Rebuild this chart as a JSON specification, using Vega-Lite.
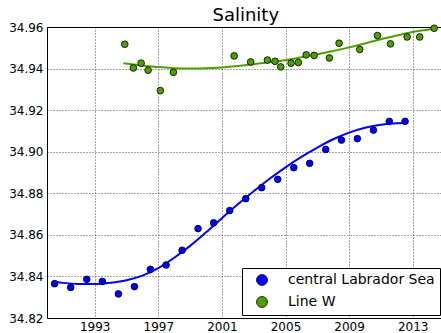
{
  "$schema": "https://vega.github.io/schema/vega-lite/v6.json",
  "autosize": "none",
  "width": 397.5,
  "height": 291,
  "padding": {"left": 47, "top": 27, "right": 0, "bottom": 15},
  "title": {"text": "Salinity", "fontSize": 18, "font": "DejaVu Sans", "fontWeight": "normal", "color": "black", "offset": -4, "anchor": "middle"},
  "config": {
    "font": "DejaVu Sans",
    "view": {"stroke": "black", "strokeWidth": 1},
    "axis": {
      "domain": false,
      "grid": true,
      "gridColor": "black",
      "gridDash": [1, 2],
      "gridOpacity": 0.7,
      "gridWidth": 1,
      "ticks": false,
      "labelFont": "DejaVu Sans",
      "labelFontSize": 12,
      "labelColor": "black",
      "title": null
    }
  },
  "datasets": {
    "pts": [
      {"year": 1990.48, "value": 34.8365, "series": "central Labrador Sea"},
      {"year": 1991.49, "value": 34.8347, "series": "central Labrador Sea"},
      {"year": 1992.5, "value": 34.8386, "series": "central Labrador Sea"},
      {"year": 1993.48, "value": 34.8376, "series": "central Labrador Sea"},
      {"year": 1994.49, "value": 34.8316, "series": "central Labrador Sea"},
      {"year": 1995.5, "value": 34.8351, "series": "central Labrador Sea"},
      {"year": 1996.5, "value": 34.8434, "series": "central Labrador Sea"},
      {"year": 1997.49, "value": 34.8455, "series": "central Labrador Sea"},
      {"year": 1998.5, "value": 34.8526, "series": "central Labrador Sea"},
      {"year": 1999.5, "value": 34.863, "series": "central Labrador Sea"},
      {"year": 2000.48, "value": 34.8658, "series": "central Labrador Sea"},
      {"year": 2001.49, "value": 34.8717, "series": "central Labrador Sea"},
      {"year": 2002.5, "value": 34.8774, "series": "central Labrador Sea"},
      {"year": 2003.5, "value": 34.8827, "series": "central Labrador Sea"},
      {"year": 2004.51, "value": 34.8867, "series": "central Labrador Sea"},
      {"year": 2005.52, "value": 34.8923, "series": "central Labrador Sea"},
      {"year": 2006.52, "value": 34.8944, "series": "central Labrador Sea"},
      {"year": 2007.53, "value": 34.9011, "series": "central Labrador Sea"},
      {"year": 2008.52, "value": 34.9056, "series": "central Labrador Sea"},
      {"year": 2009.52, "value": 34.9063, "series": "central Labrador Sea"},
      {"year": 2010.53, "value": 34.9104, "series": "central Labrador Sea"},
      {"year": 2011.53, "value": 34.9146, "series": "central Labrador Sea"},
      {"year": 2012.52, "value": 34.9146, "series": "central Labrador Sea"},
      {"year": 1994.89, "value": 34.9517, "series": "Line W"},
      {"year": 1995.43, "value": 34.9403, "series": "Line W"},
      {"year": 1995.92, "value": 34.9426, "series": "Line W"},
      {"year": 1996.36, "value": 34.9392, "series": "Line W"},
      {"year": 1997.13, "value": 34.9294, "series": "Line W"},
      {"year": 1997.95, "value": 34.9382, "series": "Line W"},
      {"year": 2001.77, "value": 34.9461, "series": "Line W"},
      {"year": 2002.81, "value": 34.9432, "series": "Line W"},
      {"year": 2003.86, "value": 34.9441, "series": "Line W"},
      {"year": 2004.34, "value": 34.9435, "series": "Line W"},
      {"year": 2004.7, "value": 34.9408, "series": "Line W"},
      {"year": 2005.35, "value": 34.9426, "series": "Line W"},
      {"year": 2005.81, "value": 34.9429, "series": "Line W"},
      {"year": 2006.3, "value": 34.9466, "series": "Line W"},
      {"year": 2006.8, "value": 34.9463, "series": "Line W"},
      {"year": 2007.76, "value": 34.9451, "series": "Line W"},
      {"year": 2008.37, "value": 34.9522, "series": "Line W"},
      {"year": 2009.67, "value": 34.9492, "series": "Line W"},
      {"year": 2010.78, "value": 34.9559, "series": "Line W"},
      {"year": 2011.6, "value": 34.9519, "series": "Line W"},
      {"year": 2012.65, "value": 34.9552, "series": "Line W"},
      {"year": 2013.44, "value": 34.9552, "series": "Line W"},
      {"year": 2014.35, "value": 34.9594, "series": "Line W"}
    ],
    "fit": [
      {"year": 1990.5, "value": 34.8374, "curve": "central Labrador Sea fit"},
      {"year": 1991, "value": 34.8369, "curve": "central Labrador Sea fit"},
      {"year": 1992, "value": 34.8364, "curve": "central Labrador Sea fit"},
      {"year": 1993, "value": 34.8364, "curve": "central Labrador Sea fit"},
      {"year": 1994, "value": 34.837, "curve": "central Labrador Sea fit"},
      {"year": 1995, "value": 34.8382, "curve": "central Labrador Sea fit"},
      {"year": 1996, "value": 34.8404, "curve": "central Labrador Sea fit"},
      {"year": 1997, "value": 34.844, "curve": "central Labrador Sea fit"},
      {"year": 1998, "value": 34.849, "curve": "central Labrador Sea fit"},
      {"year": 1999, "value": 34.8547, "curve": "central Labrador Sea fit"},
      {"year": 2000, "value": 34.8612, "curve": "central Labrador Sea fit"},
      {"year": 2001, "value": 34.868, "curve": "central Labrador Sea fit"},
      {"year": 2002, "value": 34.8747, "curve": "central Labrador Sea fit"},
      {"year": 2003, "value": 34.881, "curve": "central Labrador Sea fit"},
      {"year": 2004, "value": 34.887, "curve": "central Labrador Sea fit"},
      {"year": 2005, "value": 34.8925, "curve": "central Labrador Sea fit"},
      {"year": 2006, "value": 34.8975, "curve": "central Labrador Sea fit"},
      {"year": 2007, "value": 34.902, "curve": "central Labrador Sea fit"},
      {"year": 2008, "value": 34.906, "curve": "central Labrador Sea fit"},
      {"year": 2009, "value": 34.9092, "curve": "central Labrador Sea fit"},
      {"year": 2010, "value": 34.9115, "curve": "central Labrador Sea fit"},
      {"year": 2011, "value": 34.913, "curve": "central Labrador Sea fit"},
      {"year": 2012, "value": 34.9137, "curve": "central Labrador Sea fit"},
      {"year": 2012.5, "value": 34.9138, "curve": "central Labrador Sea fit"},
      {"year": 1994.8, "value": 34.9426, "curve": "Line W fit"},
      {"year": 1996, "value": 34.9415, "curve": "Line W fit"},
      {"year": 1997, "value": 34.9407, "curve": "Line W fit"},
      {"year": 1998, "value": 34.9402, "curve": "Line W fit"},
      {"year": 1999, "value": 34.94, "curve": "Line W fit"},
      {"year": 2000, "value": 34.9401, "curve": "Line W fit"},
      {"year": 2001, "value": 34.9405, "curve": "Line W fit"},
      {"year": 2002, "value": 34.9412, "curve": "Line W fit"},
      {"year": 2003, "value": 34.9421, "curve": "Line W fit"},
      {"year": 2004, "value": 34.943, "curve": "Line W fit"},
      {"year": 2005, "value": 34.944, "curve": "Line W fit"},
      {"year": 2006, "value": 34.9454, "curve": "Line W fit"},
      {"year": 2007, "value": 34.9469, "curve": "Line W fit"},
      {"year": 2008, "value": 34.9485, "curve": "Line W fit"},
      {"year": 2009, "value": 34.9502, "curve": "Line W fit"},
      {"year": 2010, "value": 34.9521, "curve": "Line W fit"},
      {"year": 2011, "value": 34.9541, "curve": "Line W fit"},
      {"year": 2012, "value": 34.9559, "curve": "Line W fit"},
      {"year": 2013, "value": 34.9576, "curve": "Line W fit"},
      {"year": 2014.35, "value": 34.9592, "curve": "Line W fit"}
    ]
  },
  "encoding": {
    "x": {
      "field": "year", "type": "quantitative",
      "scale": {"domain": [1990, 2015], "nice": false, "zero": false},
      "axis": {"values": [1993, 1997, 2001, 2005, 2009, 2013], "format": "d", "labelPadding": 3}
    },
    "y": {
      "field": "value", "type": "quantitative",
      "scale": {"domain": [34.82, 34.96], "nice": false, "zero": false},
      "axis": {"values": [34.82, 34.84, 34.86, 34.88, 34.9, 34.92, 34.94, 34.96], "format": ".2f", "labelPadding": 4}
    }
  },
  "layer": [
    {
      "data": {"name": "fit"},
      "mark": {"type": "line", "strokeWidth": 2, "interpolate": "monotone"},
      "encoding": {
        "stroke": {
          "field": "curve", "type": "nominal",
          "scale": {"domain": ["central Labrador Sea fit", "Line W fit"], "range": ["#0000ff", "#4f9f00"]},
          "legend": null
        }
      }
    },
    {
      "data": {"name": "pts"},
      "mark": {"type": "point", "shape": "circle", "filled": true, "size": 45, "stroke": "black", "strokeWidth": 0.8, "opacity": 1},
      "encoding": {
        "fill": {
          "field": "series", "type": "nominal",
          "scale": {"domain": ["central Labrador Sea", "Line W"], "range": ["#0000ff", "#4f9f00"]},
          "legend": {
            "title": null,
            "orient": "none",
            "legendX": 195,
            "legendY": 241,
            "direction": "vertical",
            "padding": 5,
            "strokeColor": "black",
            "fillColor": "white",
            "cornerRadius": 0,
            "labelFontSize": 14,
            "labelFont": "DejaVu Sans",
            "labelColor": "black",
            "labelOffset": 19,
            "symbolSize": 120,
            "symbolType": "circle",
            "symbolStrokeColor": "black",
            "symbolStrokeWidth": 0.8,
            "symbolOffset": 8,
            "rowPadding": 6,
            "labelLimit": 300
          }
        }
      }
    }
  ],
  "resolve": {"scale": {"fill": "independent", "stroke": "independent"}, "legend": {"fill": "independent", "stroke": "independent"}}
}
